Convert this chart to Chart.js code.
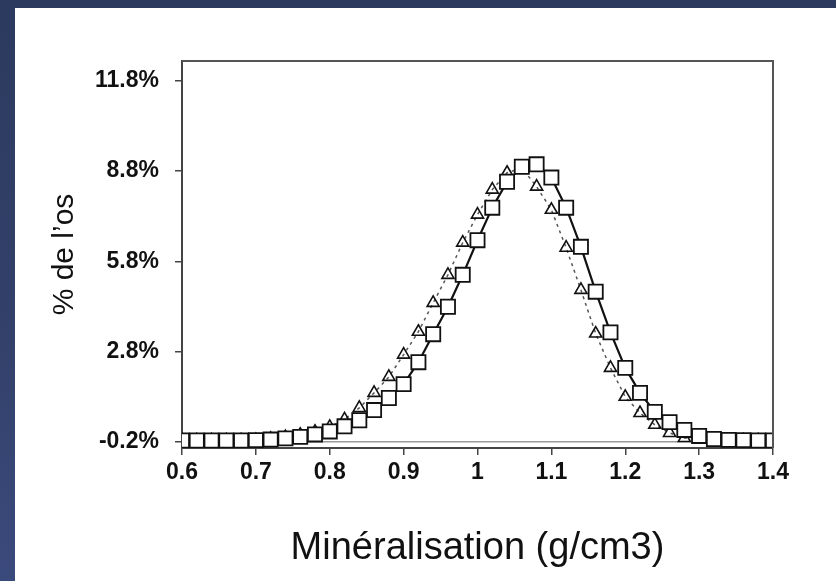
<!DOCTYPE html>
<html>
<head>
<meta charset="utf-8">
<script src="https://cdn.jsdelivr.net/npm/chart.js@4.4.0/dist/chart.umd.min.js"></script>
<style>
  html, body { margin: 0; padding: 0; }
  body { width: 836px; height: 581px; background: linear-gradient(180deg, #2d3a5f 0%, #33416b 60%, #3b4a7c 100%); position: relative; overflow: hidden; }
  #panel { position: absolute; left: 15px; top: 8px; width: 821px; height: 573px; background: #ffffff; }
  #wrap { position: absolute; left: 0; top: 0; width: 836px; height: 581px; }
</style>
</head>
<body>
<div id="panel"></div>
<div id="wrap"><canvas id="c" width="836" height="581"></canvas></div>
<script>
// Mineralisation (g/cm3) categories
const mineralisation = [0.60,0.62,0.64,0.66,0.68,0.70,0.72,0.74,0.76,0.78,0.80,0.82,0.84,0.86,0.88,0.90,0.92,0.94,0.96,0.98,1.00,1.02,1.04,1.06,1.08,1.10,1.12,1.14,1.16,1.18,1.20,1.22,1.24,1.26,1.28,1.30,1.32,1.34,1.36,1.38,1.40];
// Series with square markers (solid line), % de l'os
const seriesSquares = [-0.15,-0.15,-0.15,-0.15,-0.15,-0.14,-0.12,-0.08,-0.03,0.05,0.15,0.32,0.52,0.86,1.26,1.72,2.45,3.38,4.29,5.35,6.50,7.58,8.44,8.94,9.02,8.58,7.58,6.28,4.79,3.44,2.26,1.43,0.80,0.46,0.20,0.00,-0.10,-0.13,-0.14,-0.15,-0.15];
// Series with triangle markers (dotted line), % de l'os
const seriesTriangles = [-0.15,-0.15,-0.15,-0.15,-0.15,-0.14,-0.10,-0.04,0.04,0.14,0.30,0.55,0.93,1.43,1.96,2.70,3.46,4.42,5.35,6.42,7.35,8.18,8.74,8.90,8.28,7.51,6.25,4.85,3.40,2.26,1.30,0.76,0.37,0.10,-0.07,-0.12,-0.15,-0.15,-0.15,-0.15,-0.15];
// Axis tick labels
const yTicks = [-0.2, 2.8, 5.8, 8.8, 11.8];
const xTicks = [0.6, 0.7, 0.8, 0.9, 1.0, 1.1, 1.2, 1.3, 1.4];

const ptsSq = mineralisation.map((x, i) => ({x: x, y: seriesSquares[i]}));
const ptsTr = mineralisation.map((x, i) => ({x: x, y: seriesTriangles[i]}));

const boxPlugin = {
  id: 'box',
  afterDraw(chart) {
    const {ctx, chartArea: a} = chart;
    ctx.save();
    ctx.strokeStyle = '#555555';
    ctx.lineWidth = 2;
    ctx.beginPath();
    ctx.moveTo(a.left, a.top);
    ctx.lineTo(a.right, a.top);
    ctx.lineTo(a.right, a.bottom);
    ctx.stroke();
    ctx.restore();
  }
};

const tickFont = { family: '"Liberation Sans", Arial, sans-serif', size: 23, weight: 'bold' };

new Chart(document.getElementById('c'), {
  type: 'scatter',
  data: {
    datasets: [
      {
        label: 'carrés',
        data: ptsSq,
        showLine: true,
        borderColor: '#111111',
        borderWidth: 2.2,
        pointStyle: 'rect',
        pointRadius: 10,
        pointBackgroundColor: '#ffffff',
        pointBorderColor: '#111111',
        pointBorderWidth: 1.8,
        tension: 0
      },
      {
        label: 'triangles',
        data: ptsTr,
        showLine: true,
        borderColor: '#555555',
        borderWidth: 1.5,
        borderDash: [3, 4],
        pointStyle: 'triangle',
        pointRadius: 7,
        pointBackgroundColor: 'rgba(255,255,255,0)',
        pointBorderColor: '#111111',
        pointBorderWidth: 1.6,
        tension: 0
      }
    ]
  },
  options: {
    responsive: false,
    animation: false,
    devicePixelRatio: 1,
    layout: { padding: { left: 0, right: 63, top: 61, bottom: 0 } },
    plugins: { legend: { display: false }, tooltip: { enabled: false } },
    scales: {
      x: {
        type: 'linear',
        min: 0.6, max: 1.4,
        afterBuildTicks(s) { s.ticks = xTicks.map(v => ({value: v})); },
        afterFit(s) { s.height = 581 - 448; },
        border: { display: true, color: '#444444', width: 2 },
        grid: { display: true, drawOnChartArea: false, drawTicks: true, tickLength: 7, color: '#444444', lineWidth: 1.5 },
        ticks: {
          color: '#111111',
          font: tickFont,
          padding: 4,
          maxRotation: 0,
          callback: (v) => String(Math.round(v * 10) / 10)
        },
        title: {
          display: true,
          text: 'Minéralisation (g/cm3)',
          color: '#111111',
          font: { family: 'Liberation Sans, Arial, sans-serif', size: 38 },
          padding: { top: 0, bottom: 10 }
        }
      },
      y: {
        type: 'linear',
        min: -0.4, max: 12.45,
        afterBuildTicks(s) { s.ticks = yTicks.map(v => ({value: v})); },
        afterFit(s) { s.width = 182; },
        border: { display: true, color: '#444444', width: 2 },
        grid: {
          display: true, drawTicks: true, tickLength: 7,
          color: (c) => (c.tick && c.tick.value === -0.2) ? '#999999' : 'rgba(0,0,0,0)',
          tickColor: '#444444',
          lineWidth: 1.5
        },
        ticks: {
          color: '#111111',
          font: tickFont,
          padding: 16,
          callback: (v) => (Math.round(v * 10) / 10).toFixed(1) + '%'
        },
        title: {
          display: true,
          text: '% de l\u2019os',
          color: '#111111',
          font: { family: 'Liberation Sans, Arial, sans-serif', size: 30 },
          padding: { top: 47, bottom: 0 }
        }
      }
    }
  },
  plugins: [boxPlugin]
});
</script>
</body>
</html>
